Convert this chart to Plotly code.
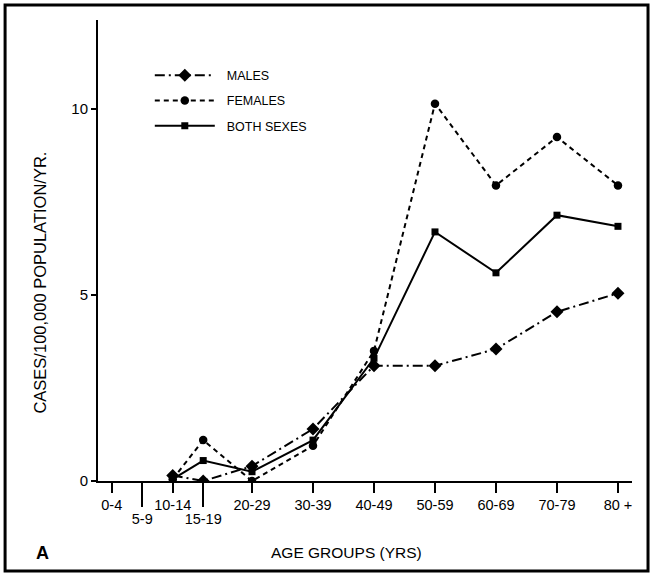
import plotly.graph_objects as go

# ---- data ----
age_groups = ["0-4", "5-9", "10-14", "15-19", "20-29", "30-39",
              "40-49", "50-59", "60-69", "70-79", "80 +"]
age_mid = [2, 7, 12, 17, 25, 35, 45, 55, 65, 75, 85]
males = [None, None, 0.15, 0.0, 0.4, 1.4, 3.1, 3.1, 3.55, 4.55, 5.05]
females = [None, None, 0.05, 1.1, 0.0, 0.95, 3.5, 10.15, 7.95, 9.25, 7.95]
both = [None, None, 0.05, 0.55, 0.25, 1.1, 3.3, 6.7, 5.6, 7.15, 6.85]
y_ticks = [0, 5, 10]

# staggered (lower row) tick labels
low_idx = [1, 3]
up_idx = [i for i in range(len(age_groups)) if i not in low_idx]

FONT = "Liberation Sans, Arial, Helvetica, sans-serif"

fig = go.Figure()
fig.add_trace(go.Scatter(
    x=age_mid, y=males, name="\u00a0\u00a0MALES", mode="lines+markers",
    line=dict(color="black", width=2, dash="10px,4px,2px,4px"),
    marker=dict(symbol="diamond", size=10, color="black"),
    legendgroup="m"))
fig.add_trace(go.Scatter(
    x=age_mid, y=females, name="\u00a0\u00a0FEMALES", mode="lines+markers",
    line=dict(color="black", width=2, dash="5px,4px"),
    marker=dict(symbol="circle", size=8.5, color="black"),
    legendgroup="f"))
fig.add_trace(go.Scatter(
    x=age_mid, y=both, name="\u00a0\u00a0BOTH SEXES", mode="lines+markers",
    line=dict(color="black", width=2),
    marker=dict(symbol="square", size=7, color="black"),
    legendgroup="b"))
# invisible trace to carry the staggered tick axis
fig.add_trace(go.Scatter(
    x=[age_mid[i] for i in low_idx], y=[0 for _ in low_idx], xaxis="x2",
    mode="markers", marker=dict(opacity=0), showlegend=False, hoverinfo="skip"))

xr = [-0.25, 87.3]
fig.update_layout(
    width=653, height=575,
    margin=dict(l=98, r=21, t=20, b=94),
    paper_bgcolor="white", plot_bgcolor="white",
    font=dict(family=FONT, color="black", size=13),
    showlegend=True,
    legend=dict(x=0.097, y=0.912, xanchor="left", yanchor="top",
                bgcolor="rgba(0,0,0,0)", font=dict(size=12.5),
                itemwidth=60, tracegroupgap=6),
    xaxis=dict(range=xr, showgrid=False, zeroline=False,
               showline=True, linecolor="black", linewidth=2,
               tickmode="array", tickvals=[age_mid[i] for i in up_idx],
               ticktext=[age_groups[i] for i in up_idx],
               ticks="outside", ticklen=10, tickwidth=1.5, tickcolor="black",
               tickfont=dict(size=14.5)),
    xaxis2=dict(range=xr, overlaying="x", anchor="y", side="bottom",
                showgrid=False, zeroline=False, showline=False,
                tickmode="array", tickvals=[age_mid[i] for i in low_idx],
                ticktext=[age_groups[i] for i in low_idx],
                ticks="outside", ticklen=25, tickwidth=1.5, tickcolor="black",
                tickfont=dict(size=14.5)),
    yaxis=dict(range=[0, 12.4], showgrid=False, zeroline=False,
               showline=True, linecolor="black", linewidth=2,
               tickmode="array", tickvals=y_ticks,
               ticks="outside", ticklen=5, tickwidth=1.5, tickcolor="black",
               tickfont=dict(size=15)),
)

fig.add_annotation(text="CASES/100,000 POPULATION/YR.", xref="paper", yref="paper",
                   x=-0.109, y=0.43, textangle=-90, showarrow=False,
                   font=dict(size=16.5), xanchor="center", yanchor="middle")
fig.add_annotation(text="AGE GROUPS (YRS)", xref="paper", yref="paper",
                   x=0.465, y=-0.156, showarrow=False, font=dict(size=15.5),
                   xanchor="center", yanchor="middle")
fig.add_annotation(text="<b>A</b>", xref="paper", yref="paper",
                   x=-0.103, y=-0.156, showarrow=False, font=dict(size=18),
                   xanchor="center", yanchor="middle")
fig.add_shape(type="rect", xref="paper", yref="paper",
              x0=-0.174, x1=1.03, y0=-0.195, y1=1.0325,
              line=dict(color="black", width=3))

fig.write_html("out.html", config={"displayModeBar": False},
               post_script="document.body.style.margin='0';document.body.style.padding='0';")
